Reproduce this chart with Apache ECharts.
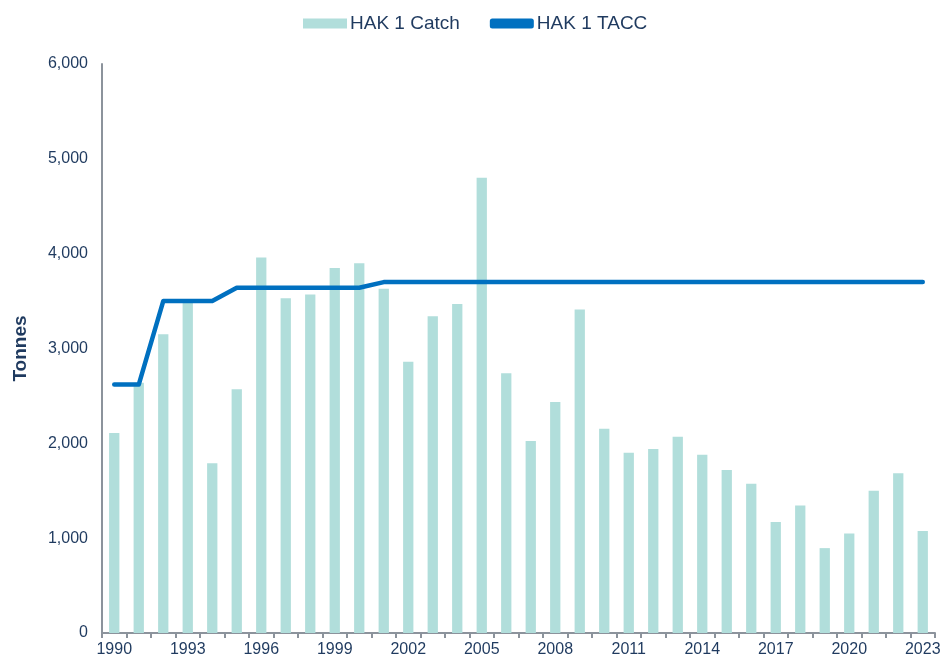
<!DOCTYPE html>
<html><head><meta charset="utf-8">
<script src="https://cdn.jsdelivr.net/npm/echarts@6/dist/echarts.min.js"></script>
<style>html,body{margin:0;padding:0;background:#fff}#c{width:946px;height:666px}</style>
</head><body><div id="c"></div>
<script>
var years = [];
for (var y = 1990; y <= 2023; y++) years.push(String(y));
var catchVals = [2110, 2640, 3150, 3480, 1790, 2570, 3960, 3530, 3570, 3850, 3900, 3630, 2860, 3340, 3470, 4800, 2740, 2025, 2435, 3410, 2155, 1900, 1940, 2070, 1880, 1720, 1575, 1170, 1345, 895, 1050, 1500, 1685, 1075];
var taccVals = [2620, 2620, 3500, 3500, 3500, 3640, 3640, 3640, 3640, 3640, 3640, 3700, 3700, 3700, 3700, 3700, 3700, 3700, 3700, 3700, 3700, 3700, 3700, 3700, 3700, 3700, 3700, 3700, 3700, 3700, 3700, 3700, 3700, 3700];
var txt = '#1F3A5F';
var chart = echarts.init(document.getElementById('c'));
chart.setOption({
  animation: false,
  textStyle: {fontFamily: 'Liberation Sans, Arial, sans-serif'},
  legend: {
    top: 9, left: 298, itemGap: 30, itemWidth: 44, itemHeight: 10,
    textStyle: {color: txt, fontSize: 19, padding: [0, 0, 0, -2]},
    data: [
      {name: 'HAK 1 Catch', icon: 'rect'},
      {name: 'HAK 1 TACC', icon: 'roundRect', itemStyle: {color: '#0070C0'}}
    ]
  },
  grid: {left: 102, right: 11, top: 64, bottom: 33},
  xAxis: {
    type: 'category', data: years, boundaryGap: true,
    axisLine: {lineStyle: {color: '#8C939C', width: 2}},
    axisTick: {show: true, interval: 0, length: 5, lineStyle: {color: '#8C939C', width: 2}},
    axisLabel: {interval: 2, color: txt, fontSize: 16, margin: 9}
  },
  yAxis: {
    type: 'value', min: 0, max: 6000, interval: 1000,
    name: 'Tonnes', nameLocation: 'middle', nameGap: 72,
    nameTextStyle: {color: txt, fontSize: 19, fontWeight: 'bold'},
    axisLine: {show: true, lineStyle: {color: '#8C939C', width: 2}},
    axisTick: {show: false},
    splitLine: {show: false},
    axisLabel: {color: txt, fontSize: 16, margin: 14,
      formatter: function (v) { return v.toLocaleString('en-US'); }}
  },
  series: [
    {name: 'HAK 1 Catch', type: 'bar', data: catchVals, barWidth: '42%',
     itemStyle: {color: '#B1DEDB'}},
    {name: 'HAK 1 TACC', type: 'line', data: taccVals, symbol: 'none',
     lineStyle: {color: '#0070C0', width: 4.5, cap: 'round', join: 'round'},
     itemStyle: {color: '#0070C0'}}
  ]
});
</script></body></html>
